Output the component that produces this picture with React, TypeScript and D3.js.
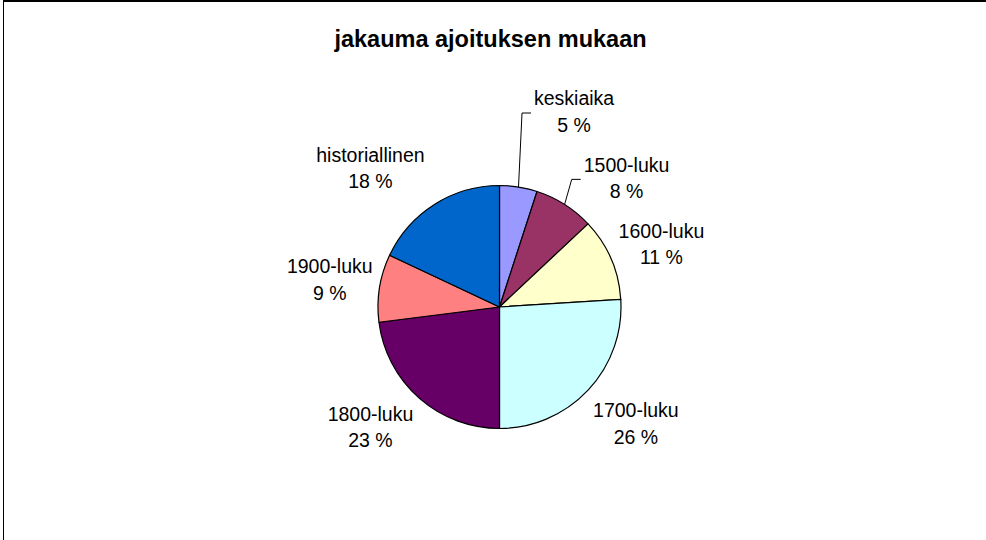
import React, { useEffect, useRef } from "react";
import { select, pie, arc } from "d3";

// chart data
const title = "jakauma ajoituksen mukaan";
const categories = [
  "keskiaika",
  "1500-luku",
  "1600-luku",
  "1700-luku",
  "1800-luku",
  "1900-luku",
  "historiallinen"
];
const shares = [5, 8, 11, 26, 23, 9, 18];
const sliceColors = [
  "#9999FF",
  "#993366",
  "#FFFFCC",
  "#CCFFFF",
  "#660066",
  "#FF8080",
  "#0066CC"
];

// label layout (labels were dragged around in the original)
const labelNudge: Record<string, [number, number]> = {
  keskiaika: [46, -34],
  "1500-luku": [29, 9],
  "1600-luku": [-6, 2],
  "1700-luku": [3, 5],
  "1800-luku": [-8, -2],
  "1900-luku": [11, -2],
  historiallinen: [-31, -1]
};
const withLeader = ["keskiaika", "1500-luku"];

const W = 986;
const H = 540;
const FONT = "Arial, 'Liberation Sans', sans-serif";

function PieChart() {
  const svgRef = useRef<SVGSVGElement>(null);

  useEffect(() => {
    const svg = select(svgRef.current);
    svg.selectAll("*").remove();

    const cx = 499.5;
    const cy = 307;
    const r = 121.5;

    // frame (cut off on the right and bottom)
    svg
      .append("rect")
      .attr("x", 3.5)
      .attr("y", 1)
      .attr("width", 1200)
      .attr("height", 800)
      .attr("fill", "none")
      .attr("stroke", "#000")
      .attr("stroke-width", 1);
    svg
      .append("line")
      .attr("x1", 3)
      .attr("x2", W)
      .attr("y1", 1)
      .attr("y2", 1)
      .attr("stroke", "#000")
      .attr("stroke-width", 2);

    svg
      .append("text")
      .attr("x", 490.5)
      .attr("y", 47)
      .attr("text-anchor", "middle")
      .attr("font-family", FONT)
      .attr("font-weight", "bold")
      .attr("font-size", 23.5)
      .text(title);

    const data = categories.map((c, i) => ({ name: c, value: shares[i], color: sliceColors[i] }));
    const pieGen = pie<any>()
      .value(d => d.value)
      .sort(null);
    const arcs = pieGen(data);
    const arcGen = arc<any>().innerRadius(0).outerRadius(r);

    const g = svg.append("g").attr("transform", `translate(${cx},${cy})`);
    g.selectAll("path")
      .data(arcs)
      .join("path")
      .attr("d", arcGen)
      .attr("fill", d => d.data.color)
      .attr("stroke", "#000")
      .attr("stroke-width", 1.2)
      .attr("stroke-linejoin", "round");

    // labels
    const rx = 183;
    const ry = 163;
    arcs.forEach(a => {
      const mid = (a.startAngle + a.endAngle) / 2;
      const nudge = labelNudge[a.data.name] || [0, 0];
      const lx = cx + rx * Math.sin(mid) + nudge[0];
      const ly = cy - ry * Math.cos(mid) + nudge[1];

      const t = svg
        .append("text")
        .attr("text-anchor", "middle")
        .attr("font-family", FONT)
        .attr("font-size", 19.5)
        .attr("fill", "#000");
      const t1 = t.append("tspan").attr("x", lx).attr("y", ly - 6.7).text(a.data.name);
      t.append("tspan")
        .attr("x", lx)
        .attr("y", ly + 20)
        .text(`${a.data.value} %`);

      if (withLeader.includes(a.data.name)) {
        const w = (t1.node() as SVGTextContentElement).getComputedTextLength();
        const left = lx - w / 2;
        const px = cx + r * Math.sin(mid);
        const py = cy - r * Math.cos(mid);
        svg
          .append("path")
          .attr("d", `M${px},${py}L${left - 12},${ly + 1}L${left - 3},${ly + 1}`)
          .attr("fill", "none")
          .attr("stroke", "#000")
          .attr("stroke-width", 1);
      }
    });
  }, []);

  return (
    <svg
      ref={svgRef}
      width={W}
      height={H}
      style={{ position: "absolute", left: 0, top: 0, display: "block", background: "#fff" }}
    />
  );
}

export default function App() {
  return <PieChart />;
}
